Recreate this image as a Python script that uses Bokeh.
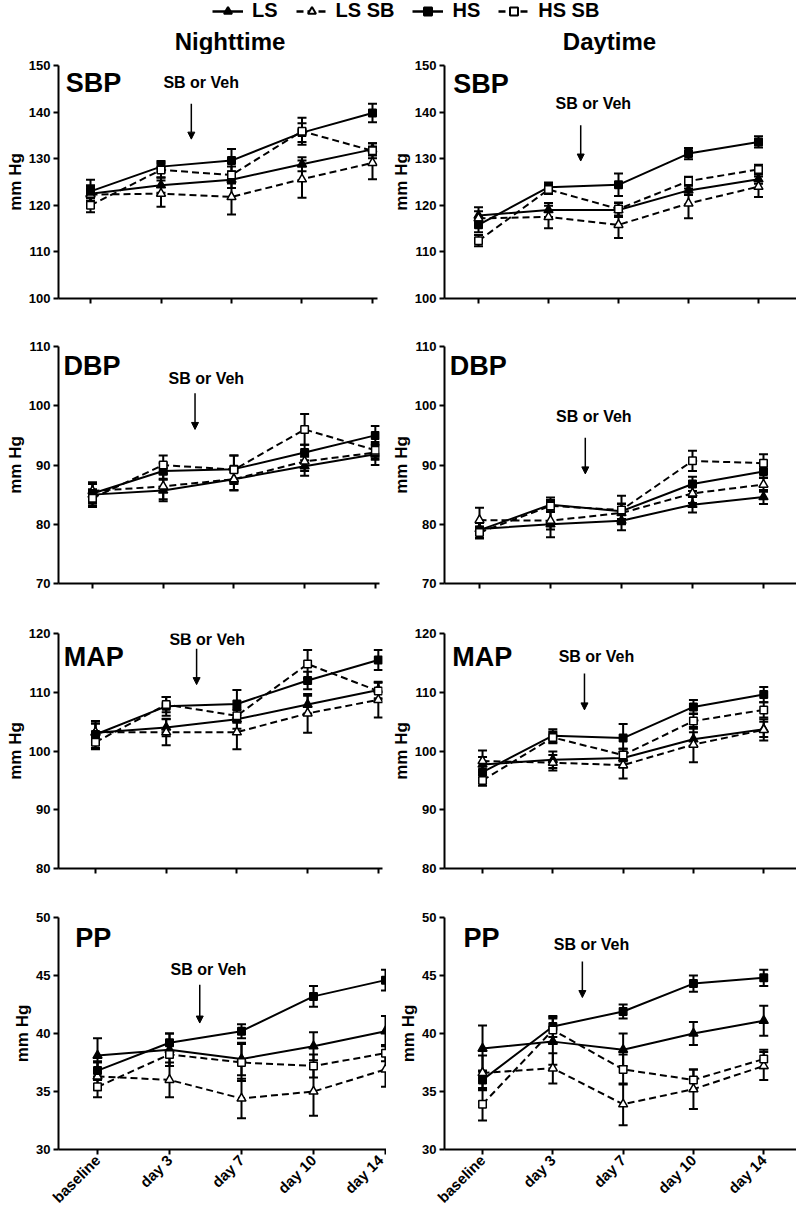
import math
from bokeh.plotting import figure
from bokeh.layouts import column, row
from bokeh.models import (ColumnDataSource, Whisker, TeeHead, Arrow, NormalHead,
                          Range1d, FixedTicker, Legend, LegendItem, Label)
from bokeh.embed import file_html
from bokeh.resources import INLINE

FONT = "Liberation Sans"

days = ["baseline", "day 3", "day 7", "day 10", "day 14"]
groups = ["LS", "LS SB", "HS", "HS SB"]

# order of rows in each mean/err list: LS, LS SB, HS, HS SB
night_sbp_mean = [[122.5, 124.3, 125.5, 128.8, 132.0],
                  [122.3, 122.5, 121.8, 125.6, 129.1],
                  [123.0, 128.3, 129.6, 135.6, 139.8],
                  [120.0, 127.6, 126.5, 135.9, 131.7]]
night_sbp_err = [[1.5, 1.6, 1.8, 1.5, 1.3],
                 [2.0, 2.8, 3.8, 4.0, 3.5],
                 [2.5, 1.2, 2.5, 2.0, 2.0],
                 [1.5, 1.6, 1.8, 2.9, 1.6]]

day_sbp_mean = [[117.8, 119.0, 119.0, 123.2, 125.6],
                [117.2, 117.5, 115.8, 120.4, 124.0],
                [115.8, 123.9, 124.4, 131.1, 133.6],
                [112.4, 123.4, 119.2, 125.2, 127.7]]
day_sbp_err = [[1.8, 1.5, 1.5, 1.0, 1.0],
               [1.5, 2.4, 2.8, 3.2, 2.2],
               [1.6, 1.0, 2.4, 1.2, 1.2],
               [1.2, 1.0, 1.4, 0.9, 1.0]]

night_dbp_mean = [[85.0, 85.7, 87.6, 89.8, 91.8],
                  [85.6, 86.4, 87.6, 90.6, 92.1],
                  [85.2, 89.0, 89.3, 92.1, 95.0],
                  [84.4, 90.0, 89.2, 96.0, 92.5]]
night_dbp_err = [[1.8, 1.8, 1.9, 1.6, 1.8],
                 [1.5, 2.2, 1.8, 1.6, 1.2],
                 [1.6, 1.3, 2.3, 1.3, 1.6],
                 [1.5, 1.6, 2.4, 2.6, 1.4]]

day_dbp_mean = [[79.2, 80.0, 80.6, 83.3, 84.6],
                [80.7, 80.6, 81.9, 85.2, 86.7],
                [79.0, 83.3, 82.2, 86.8, 88.9],
                [78.6, 83.1, 82.4, 90.7, 90.3]]
day_dbp_err = [[1.0, 2.2, 1.6, 1.3, 1.2],
               [2.1, 1.5, 1.5, 1.6, 1.2],
               [1.3, 1.2, 1.3, 1.2, 1.1],
               [1.0, 1.0, 2.4, 1.7, 1.5]]

night_map_mean = [[103.1, 104.0, 105.4, 107.9, 110.4],
                  [103.2, 103.2, 103.2, 106.4, 108.7],
                  [102.8, 107.6, 108.0, 112.0, 115.5],
                  [101.5, 107.9, 106.0, 114.8, 110.2]]
night_map_err = [[1.6, 1.5, 1.6, 1.5, 1.4],
                 [1.5, 2.2, 2.9, 3.3, 3.0],
                 [2.3, 1.6, 2.4, 1.5, 1.7],
                 [1.2, 1.3, 1.2, 2.4, 1.4]]

day_map_mean = [[97.7, 98.5, 98.8, 102.0, 103.7],
                [98.3, 98.0, 97.6, 101.1, 103.6],
                [96.4, 102.6, 102.2, 107.5, 109.6],
                [95.0, 102.3, 99.3, 105.1, 107.0]]
day_map_err = [[1.3, 1.4, 1.6, 1.2, 1.3],
               [1.8, 1.3, 2.3, 3.0, 1.8],
               [1.5, 1.1, 2.4, 1.2, 1.3],
               [0.9, 1.0, 1.1, 1.3, 1.3]]

night_pp_mean = [[38.1, 38.6, 37.8, 38.9, 40.2],
                 [36.3, 36.0, 34.4, 35.0, 36.9],
                 [36.8, 39.2, 40.2, 43.2, 44.6],
                 [35.4, 38.2, 37.5, 37.2, 38.3]]
night_pp_err = [[1.5, 1.4, 1.4, 1.2, 1.3],
                [1.2, 1.5, 1.7, 2.1, 1.5],
                [0.8, 0.8, 0.6, 0.9, 0.9],
                [0.9, 1.0, 1.6, 1.0, 0.7]]

day_pp_mean = [[38.7, 39.3, 38.6, 40.0, 41.1],
               [36.6, 37.0, 33.9, 35.2, 37.2],
               [36.0, 40.6, 41.9, 44.3, 44.8],
               [33.9, 40.3, 36.9, 36.0, 37.8]]
day_pp_err = [[2.0, 2.0, 1.4, 1.0, 1.3],
              [1.5, 1.3, 1.8, 1.7, 1.2],
              [0.8, 0.9, 0.6, 0.7, 0.7],
              [1.4, 1.1, 1.3, 0.9, 0.8]]

panel_titles = ["SBP", "DBP", "MAP", "PP"]
y_ranges = [(100, 150), (70, 110), (80, 120), (30, 50)]
y_ticks = [[100, 110, 120, 130, 140, 150], [70, 80, 90, 100, 110],
           [80, 90, 100, 110, 120], [30, 35, 40, 45, 50]]

# ---- styles ----
STYLE = {
    "LS":    dict(dash="solid", marker="triangle", fill="black", size=9),
    "LS SB": dict(dash="7 4",   marker="triangle", fill="white", size=9),
    "HS":    dict(dash="solid", marker="square",   fill="black", size=7.5),
    "HS SB": dict(dash="7 4",   marker="square",   fill="white", size=7.5),
}

# ---- layout geometry (page has no margin) ----
HEADER_H = 54
row_geom = [(11, 233, 24), (24, 237, 25), (25, 235, 24), (25, 232, 62)]
BL = 58
left_fw = [319, 321, 324, 328]
left_rb = [9, 7, 4, 0]
right_fw = 352
left_xr = [(-0.454, 4.071), (-0.481, 4.059), (-0.523, 4.059), (-0.542, 4.014)]
right_xr = [(-0.486, 4.543), (-0.493, 4.465), (-0.541, 4.466), (-0.541, 4.466)]

# annotation positions: (panel label x, y), (note x, y), (arrow x, y0, y1)
night_ann = [((-0.35, 149.4), (1.57, 146.3), (1.43, 141.8, 134.2)),
             ((-0.41, 109.3), (1.61, 104.6), (1.45, 102.1, 96.0)),
             ((-0.45, 118.5), (1.58, 118.9), (1.43, 117.4, 111.3)),
             ((-0.31, 49.5), (1.54, 45.5), (1.42, 44.2, 40.9))]
day_ann = [((-0.36, 149.2), (1.64, 141.9), (1.46, 137.2, 129.5)),
           ((-0.42, 109.3), (1.61, 98.2), (1.49, 94.6, 88.5)),
           ((-0.43, 118.5), (1.62, 116.1), (1.45, 113.2, 107.0)),
           ((-0.27, 49.5), (1.55, 47.7), (1.42, 46.2, 43.1))]


def make_panel(r, title, means, errs, xr, fw, rb, ann, bottom):
    tb, fh, bb = row_geom[r]
    p = figure(frame_width=fw, frame_height=fh,
               x_range=Range1d(*xr), y_range=Range1d(*y_ranges[r]),
               min_border_left=BL, min_border_right=rb,
               min_border_top=tb, min_border_bottom=bb,
               output_backend="svg", toolbar_location=None)
    p.title.visible = False
    p.outline_line_color = None
    p.grid.grid_line_color = None
    p.background_fill_color = "white"
    p.border_fill_color = "white"

    xs = list(range(len(days)))
    for gi, g in enumerate(groups):
        st = STYLE[g]
        m = means[gi]
        e = errs[gi]
        src = ColumnDataSource(dict(x=xs, y=m,
                                    upper=[a + b for a, b in zip(m, e)],
                                    lower=[a - b for a, b in zip(m, e)]))
        w = Whisker(base="x", upper="upper", lower="lower", source=src,
                    dimension="height", line_width=2, line_color="black",
                    upper_head=TeeHead(size=9, line_width=2, line_color="black"),
                    lower_head=TeeHead(size=9, line_width=2, line_color="black"),
                    level="underlay")
        p.add_layout(w)
        p.line("x", "y", source=src, line_width=2, line_color="black",
               line_dash=st["dash"])
        p.scatter("x", "y", source=src, marker=st["marker"], size=st["size"],
                  fill_color=st["fill"], line_color="black", line_width=1.5)

    # axes
    p.xaxis.ticker = FixedTicker(ticks=xs)
    p.yaxis.ticker = FixedTicker(ticks=y_ticks[r])
    for ax in (p.xaxis[0], p.yaxis[0]):
        ax.axis_line_width = 2
        ax.major_tick_line_width = 2
        ax.major_tick_out = 5
        ax.major_tick_in = 0
        ax.minor_tick_line_color = None
        ax.major_label_text_font = FONT
        ax.major_label_text_font_style = "bold"
        ax.major_label_text_font_size = "13px"
        ax.major_label_text_color = "black"
        ax.axis_line_color = "black"
        ax.major_tick_line_color = "black"
    p.yaxis.major_label_standoff = 3
    p.yaxis.axis_label = "mm Hg"
    p.yaxis.axis_label_text_font = FONT
    p.yaxis.axis_label_text_font_style = "bold"
    p.yaxis.axis_label_text_font_size = "17px"
    p.yaxis.axis_label_text_color = "black"
    p.yaxis.axis_label_standoff = 1
    if bottom:
        p.xaxis.major_label_overrides = {i: d for i, d in enumerate(days)}
        p.xaxis.major_label_orientation = math.pi / 4
        p.xaxis.major_label_standoff = 3
        p.xaxis.major_label_text_font_size = "15px"
    else:
        p.xaxis.major_label_overrides = {i: "" for i in xs}
        p.xaxis.major_label_standoff = 0

    (lx, ly), (nx, ny), (axx, ay0, ay1) = ann
    p.add_layout(Label(x=lx, y=ly, text=title, text_font=FONT,
                       text_font_style="bold", text_font_size="27px",
                       text_color="black",
                       text_align="left", text_baseline="top"))
    p.add_layout(Label(x=nx, y=ny, text="SB or Veh", text_font=FONT,
                       text_font_style="bold", text_font_size="16px",
                       text_color="black",
                       text_align="center", text_baseline="middle"))
    p.add_layout(Arrow(x_start=axx, y_start=ay0, x_end=axx, y_end=ay1,
                       line_width=1.5, line_color="black",
                       end=NormalHead(size=7, fill_color="black",
                                      line_color="black", line_width=1)))
    return p


night_means = [night_sbp_mean, night_dbp_mean, night_map_mean, night_pp_mean]
night_errs = [night_sbp_err, night_dbp_err, night_map_err, night_pp_err]
day_means = [day_sbp_mean, day_dbp_mean, day_map_mean, day_pp_mean]
day_errs = [day_sbp_err, day_dbp_err, day_map_err, day_pp_err]

rows = []
for r in range(4):
    left = make_panel(r, panel_titles[r], night_means[r], night_errs[r],
                      left_xr[r], left_fw[r], left_rb[r], night_ann[r], r == 3)
    right = make_panel(r, panel_titles[r], day_means[r], day_errs[r],
                       right_xr[r], right_fw, 0, day_ann[r], r == 3)
    rows.append(row(left, right))

# ---- header: legend + column titles ----
hdr = figure(frame_width=796, frame_height=HEADER_H, x_range=Range1d(0, 796),
             y_range=Range1d(0, HEADER_H), min_border=0,
             x_axis_location=None, y_axis_location=None,
             output_backend="svg", toolbar_location=None)
hdr.title.visible = False
hdr.outline_line_color = None
hdr.grid.grid_line_color = None
items = []
for g in groups:
    st = STYLE[g]
    # legend-only renderers: a dummy point outside the visible range
    rl = hdr.line([-50, -40], [-50, -50], line_width=2.5, line_color="black",
                  line_dash=st["dash"])
    rm = hdr.scatter([-50], [-50], marker=st["marker"], size=st["size"] + 3,
                     fill_color=st["fill"], line_color="black", line_width=2)
    items.append(LegendItem(label=g, renderers=[rl, rm]))
legend = Legend(items=items, orientation="horizontal", location=(212, HEADER_H - 22),
                label_text_font=FONT, label_text_font_style="bold",
                label_text_font_size="20px", label_text_color="black",
                glyph_width=31, glyph_height=20,
                label_standoff=9, spacing=18, padding=0, margin=0,
                border_line_color=None, background_fill_alpha=0)
hdr.add_layout(legend)
hdr.add_layout(Label(x=229.5, y=13, text="Nighttime", text_font=FONT,
                     text_font_style="bold", text_font_size="24px",
                     text_color="black",
                     text_align="center", text_baseline="middle"))
hdr.add_layout(Label(x=609, y=13, text="Daytime", text_font=FONT,
                     text_font_style="bold", text_font_size="24px",
                     text_color="black",
                     text_align="center", text_baseline="middle"))

layout = column(hdr, *rows)
open("out.html", "w").write(file_html(layout, INLINE))
